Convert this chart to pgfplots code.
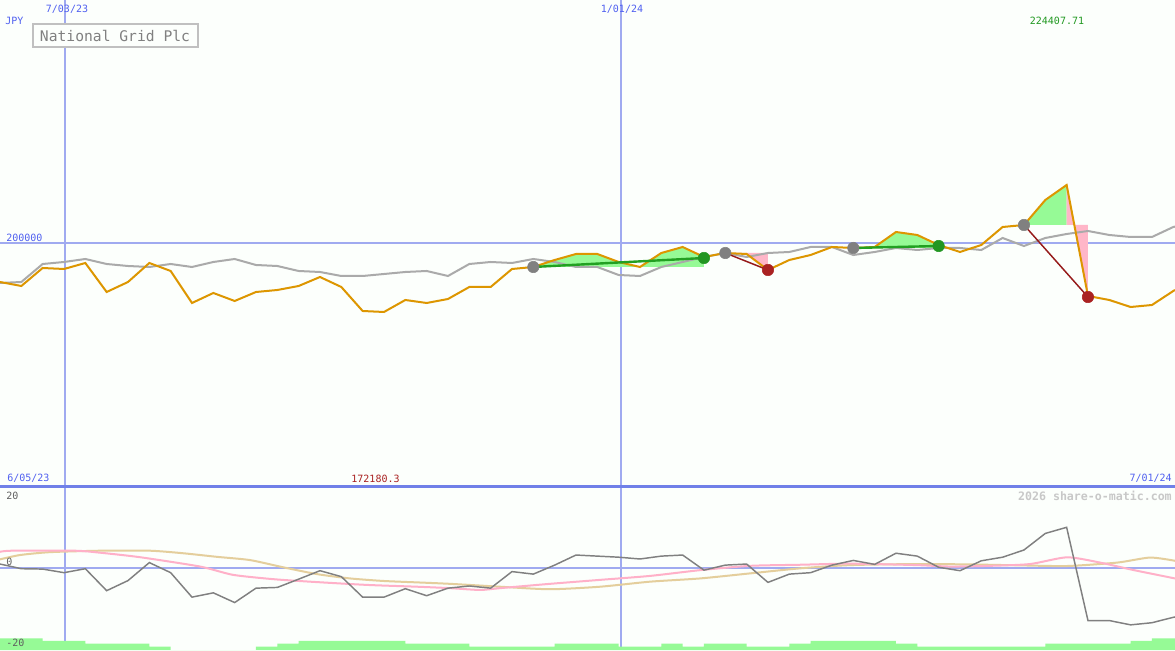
\documentclass[border=0pt]{standalone}
\usepackage{pgfplots}
\pgfplotsset{compat=1.18}
\usepackage{fontspec}
\setmainfont{DejaVu Sans Mono}
\setmonofont{DejaVu Sans Mono}
\definecolor{bg}{RGB}{252,255,252}
\definecolor{priceO}{RGB}{221,150,0}
\definecolor{avgG}{RGB}{170,170,170}
\definecolor{gridB}{RGB}{160,170,240}
\definecolor{sepB}{RGB}{112,128,232}
\definecolor{txtB}{RGB}{80,96,240}
\definecolor{txtG}{RGB}{34,153,34}
\definecolor{txtR}{RGB}{170,34,34}
\definecolor{fillG}{RGB}{150,250,150}
\definecolor{fillP}{RGB}{255,182,200}
\definecolor{tradeG}{RGB}{34,160,34}
\definecolor{tradeR}{RGB}{150,26,26}
\definecolor{mkGray}{RGB}{128,128,128}
\definecolor{mkGreen}{RGB}{34,150,34}
\definecolor{mkRed}{RGB}{170,34,34}
\definecolor{oscG}{RGB}{128,128,128}
\definecolor{oscP}{RGB}{255,176,200}
\definecolor{oscT}{RGB}{228,206,156}
\definecolor{volG}{RGB}{150,250,150}
\definecolor{boxG}{RGB}{192,192,192}
\definecolor{titleG}{RGB}{128,128,128}
\definecolor{wmG}{RGB}{200,200,200}
\definecolor{lblG}{RGB}{96,96,96}
\begin{document}
\begin{tikzpicture}
\useasboundingbox (0,0) rectangle (881.25pt,487.5pt);
\fill[bg] (0,0) rectangle (881.25pt,487.5pt);
% grid lines in pixel space
\begin{scope}[x=0.75pt,y=-0.75pt,shift={(0,487.5pt)}]
\draw[gridB,line width=1.5pt] (0,243) -- (1175,243);
\draw[gridB,line width=1.5pt] (0,568) -- (1175,568);
\draw[gridB,line width=1.5pt] (65,0) -- (65,650);
\draw[gridB,line width=1.5pt] (621,0) -- (621,650);
\end{scope}
% volume bars
\begin{axis}[at={(0,0)},anchor=south west,scale only axis,width=881.25pt,height=122.25pt,
  xmin=0,xmax=55.08,ymin=0,ymax=163,hide axis]
\addplot[const plot,fill=volG,draw=none] coordinates {(0,11.7)(2,9)(4,6.3)(7,3.3)(8,0)(12,3.3)(13,6.3)(14,9)(19,6.3)(22,3.3)(26,6.3)(29,3.3)(31,6.3)(32,3.3)(33,6.3)(35,3.3)(37,6.3)(38,9)(42,6.3)(43,3.3)(49,6.3)(53,9)(54,11.7)(55.08,11.7)} \closedcycle;
\end{axis}
% oscillators
\begin{axis}[at={(0,0)},anchor=south west,scale only axis,width=881.25pt,height=122.25pt,
  xmin=0,xmax=55.08,ymin=-22.78,ymax=22.5,hide axis]
\addplot[oscT,line width=1.5pt,smooth,tension=0.4] coordinates {(0,2.4)(0.94,3.6)(2.34,4.4)(4.69,4.8)(7.03,4.8)(8.58,4.1)(10.17,3.1)(11.72,2.2)(13.27,0.2)(14.86,-1.7)(16.41,-2.9)(17.96,-3.6)(19.55,-4.0)(21.1,-4.4)(23.44,-5.2)(25.78,-5.9)(28.13,-5.2)(30.47,-3.8)(32.82,-2.9)(35.16,-1.5)(37.5,-0.1)(39.85,0.8)(42.99,1.1)(45.34,1.0)(47.68,0.75)(50.02,0.55)(52.37,1.5)(53.91,2.9)(55.08,2.0)};
\addplot[oscP,line width=1.5pt,smooth,tension=0.4] coordinates {(0,4.5)(0.56,4.8)(3.52,4.8)(4.69,4.25)(6.56,3.0)(9.38,0.4)(10.92,-1.9)(12.8,-3.1)(14.53,-3.8)(17.2,-4.7)(19.55,-5.2)(21.1,-5.6)(22.5,-6.1)(23.44,-5.6)(25.78,-4.4)(28.13,-3.3)(30.47,-2.2)(32.82,-0.6)(35.16,0.6)(37.5,0.9)(39.85,1.2)(42.99,0.8)(44.54,0.4)(46.41,0.6)(48.29,1.1)(50.02,2.97)(51.57,1.5)(53.12,-0.55)(55.08,-2.9)};
\addplot[oscG,line width=1.1pt] coordinates {(0,1.1)(1,-0.2)(2,-0.3)(3,-1.3)(4,-0.2)(5,-6.3)(6,-3.5)(7,1.5)(8,-1.3)(9,-8.1)(10,-6.9)(11,-9.6)(12,-5.6)(13,-5.4)(14,-3.1)(15,-0.75)(16,-2.4)(17,-8.1)(18,-8.1)(19,-5.75)(20,-7.7)(21,-5.6)(22,-5.0)(23,-5.6)(24,-1.0)(25,-1.7)(26,0.8)(27,3.6)(28,3.3)(29,3.0)(30,2.5)(31,3.3)(32,3.6)(33,-0.6)(34,0.8)(35,1.1)(36,-4.0)(37,-1.7)(38,-1.3)(39,0.8)(40,2.1)(41,1.0)(42,4.1)(43,3.3)(44,0.2)(45,-0.75)(46,2.0)(47,3.0)(48,5.0)(49,9.6)(50,11.3)(51,-14.6)(52,-14.6)(53,-15.8)(54,-15.2)(55,-13.7)(55.08,-13.6)};
\end{axis}
% price panel
\begin{axis}[at={(0,122.25pt)},anchor=south west,scale only axis,width=881.25pt,height=365.25pt,
  xmin=0,xmax=55.08,ymin=173160,ymax=226730,hide axis]
% trade fills
\addplot[fill=fillG,draw=none] coordinates {(25,197360)(26,198130)(27,198790)(28,198790)(29,197910)(30,197360)(31,198900)(32,199560)(33,198460)(33,197360)};
\addplot[fill=fillP,draw=none] coordinates {(34,198900)(35,198790)(36,197030)(36,198900)};
\addplot[fill=fillG,draw=none] coordinates {(40,199450)(41,199560)(42,201210)(43,200880)(44,199780)(44,199450)};
\addplot[fill=fillG,draw=none] coordinates {(48,201980)(49,204730)(50,206380)(50,201980)};
\addplot[fill=fillP,draw=none] coordinates {(50,201980)(50,206380)(51,194170)(51,201980)};
% moving average
\addplot[avgG,line width=1.5pt] coordinates {(0,195600)(1,195710)(2,197690)(3,197910)(4,198240)(5,197690)(6,197470)(7,197360)(8,197690)(9,197360)(10,197910)(11,198240)(12,197580)(13,197470)(14,196920)(15,196810)(16,196370)(17,196370)(18,196590)(19,196810)(20,196920)(21,196370)(22,197690)(23,197910)(24,197800)(25,198240)(26,197910)(27,197360)(28,197360)(29,196480)(30,196370)(31,197360)(32,197910)(33,198460)(34,198900)(35,198460)(36,198900)(37,199010)(38,199560)(39,199560)(40,198680)(41,199010)(42,199450)(43,199230)(44,199450)(45,199450)(46,199230)(47,200550)(48,199670)(49,200550)(50,200990)(51,201320)(52,200880)(53,200660)(54,200660)(55,201760)(55.08,201800)};
% price
\addplot[priceO,line width=1.5pt] coordinates {(0,195710)(1,195270)(2,197250)(3,197140)(4,197800)(5,194610)(6,195710)(7,197800)(8,196920)(9,193400)(10,194500)(11,193620)(12,194610)(13,194830)(14,195270)(15,196260)(16,195160)(17,192520)(18,192410)(19,193730)(20,193400)(21,193840)(22,195160)(23,195160)(24,197140)(25,197360)(26,198130)(27,198790)(28,198790)(29,197910)(30,197360)(31,198900)(32,199560)(33,198460)(34,198900)(35,198790)(36,197030)(37,198130)(38,198680)(39,199560)(40,199450)(41,199560)(42,201210)(43,200880)(44,199780)(45,199010)(46,199780)(47,201760)(48,201980)(49,204730)(50,206380)(51,194170)(52,193730)(53,192960)(54,193180)(55,194720)(55.08,194830)};
% trade lines
\addplot[tradeG,line width=1.8pt] coordinates {(25,197360)(33,198350)};
\addplot[tradeG,line width=1.8pt] coordinates {(40,199450)(44,199670)};
\addplot[tradeR,line width=1.1pt] coordinates {(34,198900)(36,197030)};
\addplot[tradeR,line width=1.1pt] coordinates {(48,201980)(51,194060)};
% markers
\addplot[only marks,mark=*,mark size=4.3pt,mark options={fill=mkGray,draw=mkGray}] coordinates {(25,197360)(34,198900)(40,199450)(48,201980)};
\addplot[only marks,mark=*,mark size=4.3pt,mark options={fill=mkGreen,draw=mkGreen}] coordinates {(33,198350)(44,199670)};
\addplot[only marks,mark=*,mark size=4.3pt,mark options={fill=mkRed,draw=mkRed}] coordinates {(36,197030)(51,194060)};
\end{axis}
% separator and labels in pixel space
\begin{scope}[x=0.75pt,y=-0.75pt,shift={(0,487.5pt)}]
\draw[sepB,line width=2.25pt] (0,487) -- (1175,487);
\draw[boxG,line width=1.5pt,fill=bg] (32.5,24.5) rectangle (197.5,47.5);
\node[titleG,font=\fontsize{11pt}{12pt}\selectfont,inner sep=0] at (115,36) {National Grid Plc};
\begin{scope}[every node/.style={inner sep=0,font=\fontsize{7.5pt}{8pt}\selectfont}]
\node[txtB,anchor=west] at (5,21) {JPY};
\node[txtB] at (67,9) {7/03/23};
\node[txtB] at (622,9) {1/01/24};
\node[txtG] at (1057,21) {224407.71};
\node[txtB,anchor=west] at (6,238) {200000};
\node[txtB,anchor=west] at (7,478.5) {6/05/23};
\node[txtR] at (375.5,478.5) {172180.3};
\node[txtB,anchor=east] at (1172,478.5) {7/01/24};
\node[lblG,anchor=west] at (6,496) {20};
\node[lblG,anchor=west] at (6,561.5) {0};
\node[lblG,anchor=west] at (6,642.5) {-20};
\end{scope}
\node[wmG,anchor=east,inner sep=0,font=\fontsize{8.7pt}{9pt}\selectfont\bfseries] at (1172,496) {2026 share-o-matic.com};
\end{scope}
\end{tikzpicture}
\end{document}
